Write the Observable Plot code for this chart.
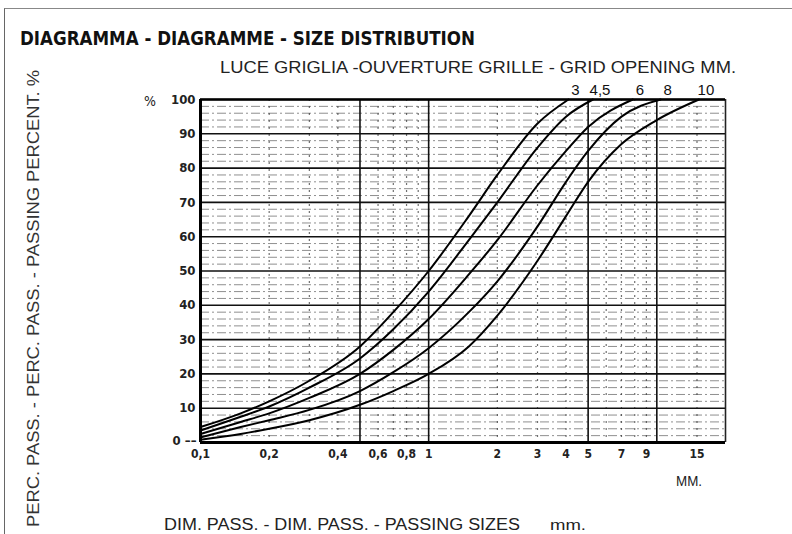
<!DOCTYPE html>
<html><head><meta charset="utf-8">
<script src="https://cdn.jsdelivr.net/npm/d3@7"></script>
<script src="https://cdn.jsdelivr.net/npm/@observablehq/plot@0.6"></script>
<style>
body{margin:0;background:#fff;}
#wrap{position:relative;width:792px;height:534px;overflow:hidden;background:#fff;}
#wrap svg{position:absolute;left:0;top:0;}
#frame{position:absolute;left:4px;top:8px;width:820px;height:600px;border-left:1.5px solid #666;border-top:1.5px solid #888;}
</style></head>
<body>
<div id="wrap">
  <div id="frame"></div>
  <div id="chart"></div>
  <svg id="labels" width="792" height="534" style="pointer-events:none">
    <text x="20" y="45" textLength="455" lengthAdjust="spacingAndGlyphs" font-family="DejaVu Sans Condensed, DejaVu Sans, sans-serif" font-weight="bold" font-size="20" fill="#111">DIAGRAMMA - DIAGRAMME - SIZE DISTRIBUTION</text>
    <text x="220" y="73" textLength="516" lengthAdjust="spacingAndGlyphs" font-family="Liberation Sans, Arial, sans-serif" font-size="16" fill="#222">LUCE GRIGLIA -OUVERTURE GRILLE - GRID OPENING MM.</text>
    <text transform="translate(39,527) rotate(-90)" textLength="457" lengthAdjust="spacingAndGlyphs" font-family="Liberation Sans, Arial, sans-serif" font-size="16" fill="#333">PERC. PASS. - PERC. PASS. - PASSING PERCENT. %</text>
    <text x="164" y="530" textLength="356" lengthAdjust="spacingAndGlyphs" font-family="Liberation Sans, Arial, sans-serif" font-size="16" fill="#222">DIM. PASS. - DIM. PASS. - PASSING SIZES</text>
    <text x="550" y="530" textLength="36" lengthAdjust="spacingAndGlyphs" font-family="Liberation Sans, Arial, sans-serif" font-size="15" fill="#222">mm.</text>
    <text x="676" y="486" textLength="26" lengthAdjust="spacingAndGlyphs" font-family="Liberation Sans, Arial, sans-serif" font-size="14" fill="#222">MM.</text>
    <text x="144" y="106" font-family="DejaVu Sans Condensed, sans-serif" font-size="14" fill="#222">%</text>
  </svg>
</div>
<script>
// Grid opening labels (curve names)
const openings = ["3", "4,5", "6", "8", "10"];
// Passing sizes (mm) and passing percent for each curve
const sizes3   = [0.1, 0.15, 0.2, 0.3, 0.5, 0.7, 1, 1.5, 2, 3, 4.1];
const pass3    = [4.5, 8.5, 12, 18, 28, 38, 50, 66, 78, 93, 100];
const sizes45  = [0.1, 0.15, 0.2, 0.3, 0.5, 0.7, 1, 1.5, 2, 3, 4, 5.25];
const pass45   = [3.5, 7.5, 10.5, 16, 24.5, 33, 44, 59, 70, 86, 95, 100];
const sizes6   = [0.1, 0.15, 0.2, 0.3, 0.5, 0.7, 1, 1.5, 2, 3, 4, 5, 7.85];
const pass6    = [2.5, 6, 8.5, 13, 20, 27, 36, 49, 59, 75, 85, 92, 100];
const sizes8   = [0.1, 0.15, 0.2, 0.3, 0.5, 0.7, 1, 1.5, 2, 3, 4, 5, 7, 10.4];
const pass8    = [1.5, 4.5, 6.5, 9.5, 15, 20.5, 27.5, 38, 47, 63, 76, 85, 95, 100];
const sizes10  = [0.1, 0.15, 0.2, 0.3, 0.5, 0.7, 1, 1.5, 2, 3, 4, 5, 7, 10, 15.3];
const pass10   = [0.8, 2.5, 4, 6.5, 11, 15, 20, 28, 37, 53, 66, 76, 87, 94, 100];

// Axis ticks
const xTicks = [0.1, 0.2, 0.4, 0.6, 0.8, 1, 2, 3, 4, 5, 7, 9, 15];
const xTickLabels = ["0,1", "0,2", "0,4", "0,6", "0,8", "1", "2", "3", "4", "5", "7", "9", "15"];
const yTicks = [10, 20, 30, 40, 50, 60, 70, 80, 90, 100];
const yZero = [0];
const xMajorLines = [0.5, 1, 5, 10];
const xMinorLines = [0.2, 0.3, 0.4, 0.6, 0.7, 0.8, 0.9, 2, 3, 4, 6, 7, 8, 9, 15];
const yMinorLines = d3.range(2, 100, 2).filter(v => v % 10 !== 0);

const curveSizes = [sizes3, sizes45, sizes6, sizes8, sizes10];
const curvePass = [pass3, pass45, pass6, pass8, pass10];
const rows = [];
openings.forEach((o, i) => curveSizes[i].forEach((s, j) => rows.push({opening: o, size: s, pass: curvePass[i][j]})));
const ends = openings.map((o, i) => ({opening: o, size: curveSizes[i][curveSizes[i].length - 1], pass: 100}));
const xLabelRows = xTicks.map((t, i) => ({size: t, label: xTickLabels[i]}));

const chart = Plot.plot({
  width: 792, height: 534,
  marginLeft: 200, marginRight: 67, marginTop: 99, marginBottom: 92,
  style: {background: "transparent", fontFamily: "DejaVu Sans Condensed, sans-serif", overflow: "visible"},
  x: {type: "log", domain: [0.1, 20], axis: null},
  y: {domain: [0, 100], axis: null},
  marks: [
    Plot.ruleY(yMinorLines, {stroke: "#444", strokeWidth: 1, strokeDasharray: "9,3,2,3", strokeOpacity: 0.6}),
    Plot.ruleX(xMinorLines, {stroke: "#333", strokeWidth: 1.2, strokeDasharray: "2,5", strokeOpacity: 0.7}),
    Plot.ruleY(yTicks, {stroke: "#111", strokeWidth: 1.6}),
    Plot.ruleX(xMajorLines, {stroke: "#111", strokeWidth: 1.6}),
    Plot.ruleX([20], {stroke: "#222", strokeWidth: 1.6}),
    Plot.ruleX([0.1], {stroke: "#000", strokeWidth: 3}),
    Plot.ruleY(yZero, {stroke: "#000", strokeWidth: 3}),
    Plot.ruleY([100], {stroke: "#000", strokeWidth: 2.5}),
    Plot.line(rows, {x: "size", y: "pass", z: "opening", stroke: "#000", strokeWidth: 2, curve: "monotone-x"}),
    Plot.text(ends, {x: "size", y: "pass", text: "opening", dx: 7, dy: -9, fontSize: 15, fill: "#111", fontFamily: "Liberation Sans, Arial, sans-serif"}),
    Plot.axisY({ticks: yTicks, tickSize: 0, tickPadding: 5, fontSize: 13, fontWeight: "bold", fill: "#222", label: null}),
    Plot.axisY({ticks: yZero, tickSize: 0, tickPadding: 4, dy: -2, fontSize: 13, fontWeight: "bold", fill: "#222", label: null,
      tickFormat: d => `${d} \u2013\u2013`}),
    Plot.text(xLabelRows, {x: "size", text: "label", frameAnchor: "bottom", dy: 15, fontSize: 12, fontWeight: "bold", fill: "#222"})
  ]
});
document.getElementById("chart").appendChild(chart);
</script>
</body></html>
